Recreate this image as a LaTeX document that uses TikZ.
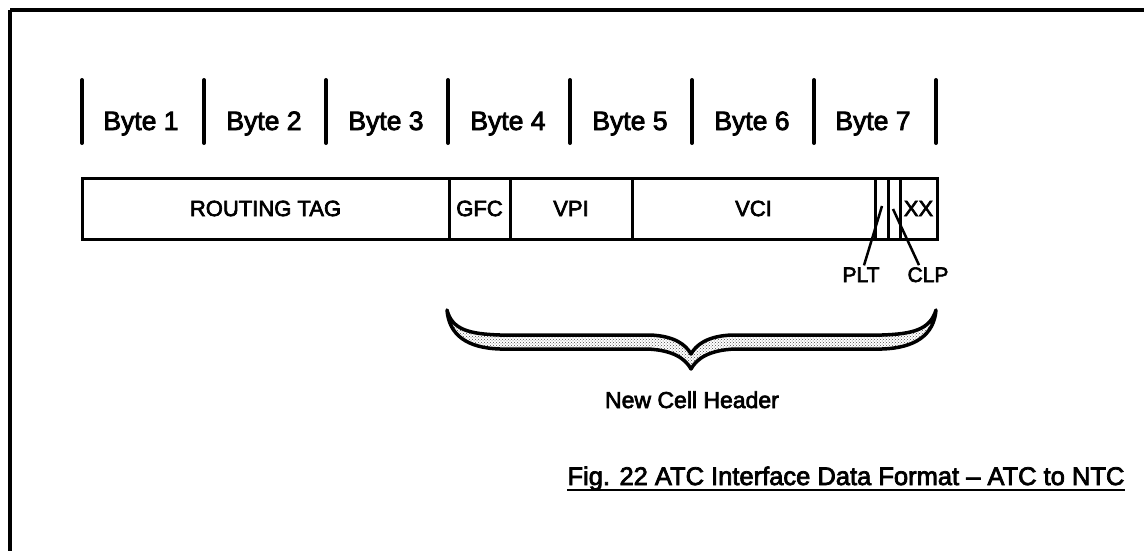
\documentclass[tikz,border=0pt]{standalone}
\usepackage{fontspec}
\setmainfont{Liberation Sans}[BoldFont=Liberation Sans, BoldFeatures={FakeBold=3}]
\usetikzlibrary{patterns}
\begin{document}
\begin{tikzpicture}[x=1pt,y=-1pt,
  framebar/.style={line width=4.5pt},
  bytebar/.style={line width=4pt, line cap=round},
  bytelabel/.style={anchor=base, inner sep=0pt, font=\fontsize{26.5}{30}\selectfont\bfseries},
  field/.style={draw, line width=3pt, minimum height=61pt, inner sep=0pt, font=\fontsize{22}{26}\selectfont\bfseries},
  leader/.style={line width=2.5pt},
  small/.style={anchor=base, inner sep=0pt, font=\fontsize{21}{24}\selectfont\bfseries},
  bracebody/.style={line width=3.5pt, line join=round, pattern=crosshatch dots, pattern color=black!70},
]
\useasboundingbox (0,0) rectangle (1144,551);
% frame (top and left edges)
\draw[framebar] (10,10) -- (1144,10);
\draw[framebar] (10,10) -- (10,551);

% byte separators
\foreach \x in {82,204,326,448,570,692,814,936}
  \draw[bytebar] (\x,80) -- (\x,143);

% byte labels
\node[bytelabel] (b1) at (141,130) {Byte 1};
\node[bytelabel] (b2) at (264,130) {Byte 2};
\node[bytelabel] (b3) at (386,130) {Byte 3};
\node[bytelabel] (b4) at (508,130) {Byte 4};
\node[bytelabel] (b5) at (630,130) {Byte 5};
\node[bytelabel] (b6) at (752,130) {Byte 6};
\node[bytelabel] (b7) at (873,130) {Byte 7};

% fields
\node[field, minimum width=367pt] (rt)  at (265.5,208.5) {ROUTING TAG};
\node[field, minimum width=61pt]  (gfc) at (479.5,208.5) {GFC};
\node[field, minimum width=122pt] (vpi) at (571,208.5) {VPI};
\node[field, minimum width=243pt] (vci) at (753.5,208.5) {VCI};
\node[field, minimum width=13pt]  (plt) at (881.5,208.5) {};
\node[field, minimum width=12pt]  (clp) at (894,208.5) {};
\node[field, minimum width=37pt]  (xx)  at (918.5,208.5) {XX};

% PLT / CLP labels and leaders
\node[small] (pltl) at (861,282) {PLT};
\node[small] (clpl) at (928,282) {CLP};
\coordinate (pltend) at (882,206);
\coordinate (clpend) at (893,209);
\draw[leader] ([xshift=3pt,yshift=2pt]pltl.north) -- (pltend);
\draw[leader] ([xshift=-9pt,yshift=2pt]clpl.north) -- (clpend);

% brace
\draw[bracebody] (447,310) .. controls (452,330) and (470,334) .. (500,335)
  -- (650,335) .. controls (675,336) and (686,345) .. (691,354)
  .. controls (696,345) and (707,336) .. (732,335)
  -- (882,335) .. controls (912,334) and (930,330) .. (936,310)
  .. controls (934,335) and (915,348) .. (882,349)
  -- (735,349) .. controls (710,350) and (697,358) .. (691,369)
  .. controls (685,358) and (672,350) .. (647,349)
  -- (500,349) .. controls (467,348) and (449,335) .. (447,310) -- cycle;
\node[anchor=base, inner sep=0pt, font=\fontsize{23}{26}\selectfont\bfseries] (nch) at (692,408) {New Cell Header};

% caption
\node[anchor=base, inner sep=0pt, font=\fontsize{25.5}{28}\selectfont\bfseries] (cap) at (846,485) {Fig. 22 ATC Interface Data Format -- ATC to NTC};
\draw[line width=2pt] ([yshift=-5pt]cap.base west) -- ([yshift=-5pt]cap.base east);
\end{tikzpicture}
\end{document}
